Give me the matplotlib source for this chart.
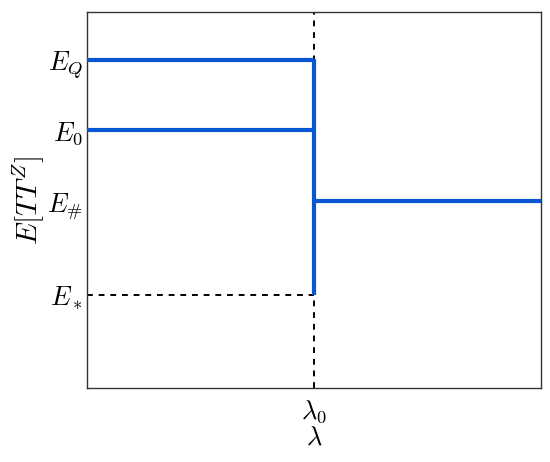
import matplotlib
matplotlib.use("Agg")
import matplotlib.pyplot as plt

plt.rcParams['mathtext.fontset'] = 'cm'

lam0 = 0.5
levels = {'E_Q': 0.872, 'E_0': 0.686, 'E_#': 0.497, 'E_*': 0.247}
ytick_vals = [levels['E_Q'], levels['E_0'], levels['E_#'], levels['E_*']]
ytick_labels = [r'$E_Q$', r'$E_0$', r'$E_\#$', r'$E_*$']
xtick_vals = [lam0]
xtick_labels = [r'$\lambda_0$']

blue = '#0a55d2'

fig = plt.figure(figsize=(5.5, 4.62), dpi=100)
ax = fig.add_axes([0.158, 0.160, 0.826, 0.814])

ax.axvline(lam0, color='black', ls='--', lw=1.4, dashes=(3, 3), zorder=1)
ax.plot([0, lam0], [levels['E_*'], levels['E_*']], color='black', ls='--', lw=1.4, dashes=(3, 3), zorder=1)

ax.plot([0, lam0], [levels['E_Q'], levels['E_Q']], color=blue, lw=3, solid_capstyle='butt', zorder=3)
ax.plot([0, lam0], [levels['E_0'], levels['E_0']], color=blue, lw=3, solid_capstyle='butt', zorder=3)
ax.plot([lam0, lam0], [levels['E_*'], levels['E_Q'] + 0.004], color=blue, lw=3, solid_capstyle='butt', zorder=3)
ax.plot([lam0, 1], [levels['E_#'], levels['E_#']], color=blue, lw=3, solid_capstyle='butt', zorder=3)

ax.set_xlim(0, 1)
ax.set_ylim(0, 1)
ax.set_yticks(ytick_vals)
ax.set_yticklabels(ytick_labels, fontsize=19)
ax.set_xticks(xtick_vals)
ax.set_xticklabels(xtick_labels, fontsize=19)
ax.tick_params(axis='y', length=0, pad=3)
ax.tick_params(axis='x', length=0, pad=7)
ax.set_xlabel(r'$\lambda$', fontsize=19, labelpad=0)
ax.set_ylabel(r'$E[TT^Z]$', fontsize=21, labelpad=1)
for s in ax.spines.values():
    s.set_color('#333333')
    s.set_linewidth(1.0)

fig.savefig('out.png', dpi=100)
